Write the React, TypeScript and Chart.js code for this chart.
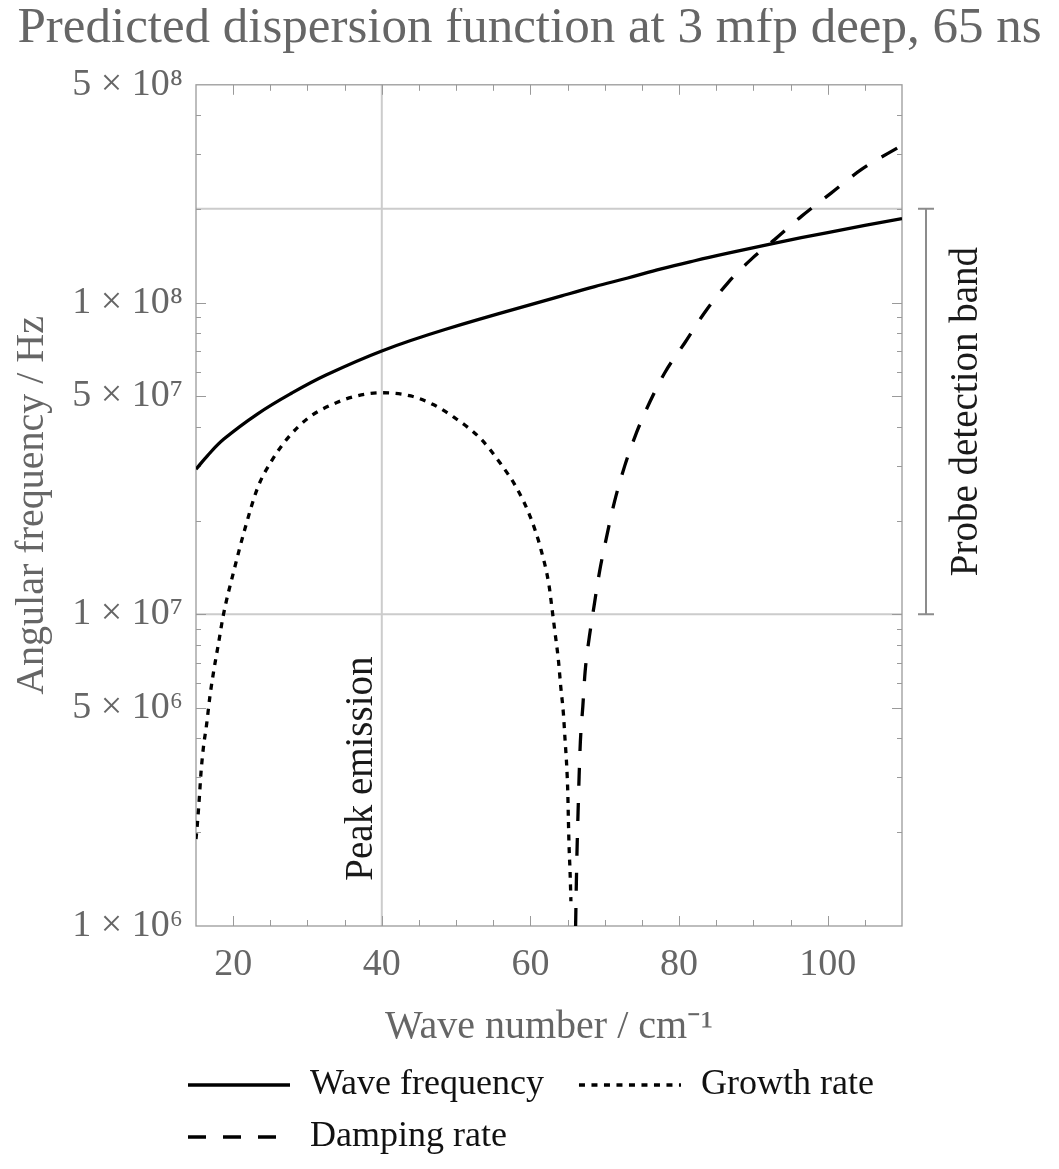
import React, { useEffect, useRef } from "react";
import { Chart, registerables } from "chart.js";

Chart.register(...registerables);

// ---- data ----
const waveK = [15, 16.5, 18.75, 23.3, 27.9, 32.5, 40, 48.5, 64.2, 68.65, 73.1, 77.6, 82.1, 86.6, 92.9, 100, 110];
const waveFreq = [2.92e7, 3.22e7, 3.65e7, 4.4e7, 5.13e7, 5.86e7, 7.0e7, 8.2e7, 1.051e8, 1.126e8, 1.2e8, 1.284e8, 1.363e8, 1.441e8, 1.552e8, 1.679e8, 1.862e8];

const growthK = [15, 15.18, 15.45, 15.67, 15.99, 16.43, 16.88, 17.42, 18.0, 18.7, 20.1, 21.5, 23.3, 25.15, 27.4, 30.2, 33.4, 36.6, 40, 43.9, 47.0, 49.7, 53.3, 56.0, 58.2, 60.0, 61.4, 62.5, 62.87, 63.32, 63.76, 64.08, 64.43, 64.66, 64.89, 65.03, 65.11, 65.2, 65.34, 65.45];
const growthRate = [1.9e6, 2.12e6, 2.58e6, 3.1e6, 3.73e6, 4.44e6, 5.47e6, 6.66e6, 8.0e6, 1.0e7, 1.38e7, 1.85e7, 2.55e7, 3.1e7, 3.69e7, 4.28e7, 4.72e7, 5.02e7, 5.14e7, 5.02e7, 4.7e7, 4.29e7, 3.66e7, 3.04e7, 2.53e7, 2.05e7, 1.62e7, 1.24e7, 1.06e7, 8.7e6, 7.15e6, 5.86e6, 4.83e6, 3.96e6, 3.24e6, 2.67e6, 2.19e6, 1.8e6, 1.48e6, 1.2e6];

const dampK = [66.08, 66.18, 66.28, 66.41, 66.55, 66.72, 67.05, 67.36, 67.93, 68.39, 69.3, 70.2, 71.3, 72.7, 74.3, 76.05, 78.1, 80.8, 83.45, 86.6, 89.7, 92.9, 96.5, 100.5, 104.5, 110];
const dampRate = [1.0e6, 1.37e6, 1.78e6, 2.31e6, 3.01e6, 3.9e6, 5.06e6, 6.55e6, 8.47e6, 1.0e7, 1.37e7, 1.75e7, 2.29e7, 3.0e7, 3.84e7, 4.79e7, 5.97e7, 7.45e7, 9.3e7, 1.16e8, 1.377e8, 1.596e8, 1.895e8, 2.25e8, 2.67e8, 3.2e8];

const seriesNames = ["Wave frequency", "Growth rate", "Damping rate"];

const xRange = [15, 110];
const yRange = [1e6, 5e8];
const xTicks = [20, 40, 60, 80, 100];
const xMinorStep = 5;
const yTicks = [1e6, 5e6, 1e7, 5e7, 1e8, 5e8];
const yTickLabels = ["1 × 10⁶", "5 × 10⁶", "1 × 10⁷", "5 × 10⁷", "1 × 10⁸", "5 × 10⁸"];

const probeBand = [1e7, 2e8];
const probeLabel = "Probe detection band";
const peakK = 40;
const peakLabel = "Peak emission";
const peakLabelY = 3.2e6;

const titleText = "Predicted dispersion function at 3 mfp deep, 65 ns";
const xTitle = "Wave number / cm⁻¹";
const yTitle = "Angular frequency / Hz";

// ---- styling ----
const FONT = "'Liberation Serif', 'Times New Roman', serif";
const GRAY_TEXT = "#666666";
const FRAME = "#9a9a9a";
const GRID = "#cccccc";

const W = 1043;
const H = 1153;

const toPts = (xs: number[], ys: number[]) => xs.map((x, i) => ({ x, y: ys[i] }));

const framePlugin = {
  id: "frameTicks",
  beforeDatasetsDraw(chart: any) {
    const { ctx, chartArea: a } = chart;
    const x = chart.scales.x;
    const y = chart.scales.y;
    ctx.save();
    // gridlines
    ctx.strokeStyle = GRID;
    ctx.lineWidth = 2;
    ctx.beginPath();
    const gx = x.getPixelForValue(peakK);
    ctx.moveTo(gx, a.top);
    ctx.lineTo(gx, a.bottom);
    probeBand.forEach((v) => {
      const gy = y.getPixelForValue(v);
      ctx.moveTo(a.left, gy);
      ctx.lineTo(a.right, gy);
    });
    ctx.stroke();

    // inward ticks
    ctx.strokeStyle = FRAME;
    ctx.lineWidth = 1;
    ctx.beginPath();
    for (let k = xRange[0] + xMinorStep; k < xRange[1]; k += xMinorStep) {
      const px = Math.round(x.getPixelForValue(k)) + 0.5;
      const len = xTicks.includes(k) ? 10 : 6;
      ctx.moveTo(px, a.bottom);
      ctx.lineTo(px, a.bottom - len);
      ctx.moveTo(px, a.top);
      ctx.lineTo(px, a.top + len);
    }
    for (let e = 6; e <= 8; e++) {
      for (let m = 1; m <= 9; m++) {
        const v = m * Math.pow(10, e);
        if (v <= yRange[0] || v >= yRange[1]) continue;
        const py = Math.round(y.getPixelForValue(v)) + 0.5;
        const len = m === 1 || m === 5 ? 10 : 5;
        ctx.moveTo(a.left, py);
        ctx.lineTo(a.left + len, py);
        ctx.moveTo(a.right, py);
        ctx.lineTo(a.right - len, py);
      }
    }
    ctx.stroke();
    ctx.lineWidth = 1.3;
    ctx.strokeRect(a.left, a.top, a.right - a.left, a.bottom - a.top);
    ctx.restore();
  },
};

const annotationPlugin = {
  id: "annotations",
  afterDatasetsDraw(chart: any) {
    const { ctx, chartArea: a } = chart;
    const x = chart.scales.x;
    const y = chart.scales.y;
    ctx.save();
    // probe band bracket
    const top = y.getPixelForValue(probeBand[1]);
    const bot = y.getPixelForValue(probeBand[0]);
    const bx = a.right + 24;
    ctx.strokeStyle = "#8c8c8c";
    ctx.lineWidth = 2;
    ctx.beginPath();
    ctx.moveTo(bx, top);
    ctx.lineTo(bx, bot);
    ctx.moveTo(bx - 8, top);
    ctx.lineTo(bx + 8, top);
    ctx.moveTo(bx - 8, bot);
    ctx.lineTo(bx + 8, bot);
    ctx.stroke();

    ctx.fillStyle = "#1a1a1a";
    ctx.font = `39px ${FONT}`;
    ctx.textAlign = "center";
    ctx.textBaseline = "alphabetic";
    ctx.save();
    ctx.translate(a.right + 75, (top + bot) / 2);
    ctx.rotate(-Math.PI / 2);
    ctx.fillText(probeLabel, 0, 0);
    ctx.restore();

    ctx.save();
    ctx.translate(x.getPixelForValue(peakK) - 10, y.getPixelForValue(peakLabelY));
    ctx.rotate(-Math.PI / 2);
    ctx.fillText(peakLabel, 0, 0);
    ctx.restore();
    ctx.restore();
  },
};

const legendPlugin = {
  id: "customLegend",
  afterDraw(chart: any) {
    const { ctx, chartArea: a } = chart;
    const rows = [[0, 1], [2]];
    const rowY = [a.bottom + 159, a.bottom + 211];
    const sample = 102;
    ctx.save();
    ctx.font = `36px ${FONT}`;
    ctx.textBaseline = "middle";
    ctx.textAlign = "left";
    rows.forEach((row, r) => {
      let cx = a.left - 8;
      const cy = rowY[r];
      row.forEach((i) => {
        const ds = chart.data.datasets[i];
        ctx.strokeStyle = ds.borderColor;
        ctx.lineWidth = ds.borderWidth;
        ctx.lineCap = "butt";
        ctx.setLineDash(ds.borderDash || []);
        ctx.beginPath();
        ctx.moveTo(cx, cy);
        ctx.lineTo(cx + sample, cy);
        ctx.stroke();
        ctx.setLineDash([]);
        ctx.fillStyle = "#111111";
        ctx.fillText(ds.label, cx + sample + 20, cy);
        cx += sample + 20 + ctx.measureText(ds.label).width + 35;
      });
    });
    ctx.restore();
  },
};

const App = () => {
  const ref = useRef<HTMLCanvasElement>(null);
  useEffect(() => {
    const canvas = ref.current;
    if (!canvas) return;
    const lineBase = {
      borderColor: "#000000",
      borderWidth: 3.3,
      pointRadius: 0,
      fill: false,
      cubicInterpolationMode: "monotone" as const,
      borderCapStyle: "butt" as const,
      clip: 0,
      yAxisID: "y",
    };
    const chart = new Chart(canvas, {
      type: "line",
      data: {
        datasets: [
          {
            ...lineBase,
            label: seriesNames[0],
            data: toPts(waveK, waveFreq),
            cubicInterpolationMode: "default",
            tension: 0.4,
          },
          { ...lineBase, label: seriesNames[1], data: toPts(growthK, growthRate), borderDash: [6, 6.5] },
          { ...lineBase, label: seriesNames[2], data: toPts(dampK, dampRate), borderDash: [18, 17] },
        ],
      },
      options: {
        responsive: false,
        animation: false,
        parsing: false as any,
        normalized: true,
        layout: { padding: { left: 0, right: 0, top: 0, bottom: 110 } },
        plugins: {
          legend: { display: false },
          tooltip: { enabled: false },
          title: {
            display: true,
            text: titleText,
            color: GRAY_TEXT,
            font: { family: FONT, size: 51, weight: "normal", lineHeight: 0.8 },
            padding: { top: 0, bottom: 36 },
          },
        },
        scales: {
          x: {
            type: "linear",
            min: xRange[0],
            max: xRange[1],
            afterBuildTicks: (s: any) => {
              s.ticks = xTicks.map((v) => ({ value: v }));
            },
            afterFit: (s: any) => {
              s.height = 125;
            },
            ticks: {
              autoSkip: false,
              maxRotation: 0,
              padding: 16,
              color: GRAY_TEXT,
              font: { family: FONT, size: 38 },
              callback: (v: any) => String(v),
            },
            grid: { display: false, drawTicks: false },
            border: { display: false },
            title: {
              display: true,
              text: xTitle,
              color: GRAY_TEXT,
              font: { family: FONT, size: 40 },
              padding: 0,
            },
          },
          y: {
            type: "logarithmic",
            position: "left",
            min: yRange[0],
            max: yRange[1],
            afterBuildTicks: (s: any) => {
              s.ticks = yTicks.map((v) => ({ value: v }));
            },
            afterFit: (s: any) => {
              s.width = 188;
            },
            ticks: {
              autoSkip: false,
              padding: 13,
              color: GRAY_TEXT,
              font: { family: FONT, size: 38 },
              callback: (_v: any, i: number) => yTickLabels[i],
            },
            grid: { display: false, drawTicks: false },
            border: { display: false },
            title: {
              display: true,
              text: yTitle,
              color: GRAY_TEXT,
              font: { family: FONT, size: 40 },
              padding: 0,
            },
          },
          // empty right-hand scale that reserves room for the probe-band annotation
          yRight: {
            type: "linear",
            position: "right",
            display: true,
            ticks: { display: false },
            grid: { display: false, drawTicks: false },
            border: { display: false },
            afterFit: (s: any) => {
              s.width = 149;
            },
          },
        },
      },
      plugins: [framePlugin, annotationPlugin, legendPlugin],
    } as any);
    return () => chart.destroy();
  }, []);
  return (
    <div style={{ width: W, height: H }}>
      <canvas ref={ref} width={W} height={H} style={{ display: "block" }} />
    </div>
  );
};

export default App;
